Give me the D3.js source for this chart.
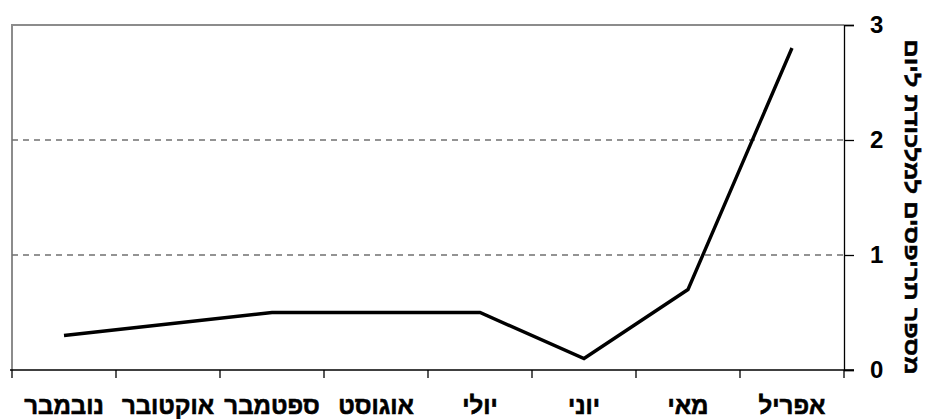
<!DOCTYPE html>
<html lang="he">
<head>
<meta charset="utf-8">
<script src="https://cdn.jsdelivr.net/npm/d3@7"></script>
<style>
  html, body { margin: 0; padding: 0; background: #fff; }
  svg { display: block; font-family: "Liberation Sans", Arial, sans-serif; }
  .heb { font-family: "Liberation Sans", "DejaVu Sans", sans-serif; font-weight: bold;
         fill: #000; stroke: #000; stroke-width: 0.6; }
</style>
</head>
<body>
<svg id="chart" width="925" height="419"></svg>
<script>
// the data (months run right to left)
var months = ['אפריל', 'מאי', 'יוני', 'יולי', 'אוגוסט', 'ספטמבר', 'אוקטובר', 'נובמבר'];
var values = [2.8, 0.7, 0.1, 0.5, 0.5, 0.5, 0.4, 0.3];
var yTicks = [0, 1, 2, 3];
var yTitle = 'מספר תריפסים למלכודת ליום';

// plot edges (not "top": that name belongs to window)
var pLeft = 12, pRight = 844, pTop = 25, pBottom = 370;

var svg = d3.select('#chart');

// band scale reversed so April sits on the right
var x = d3.scaleBand().domain(months.slice().reverse()).range([pLeft, pRight]);
var y = d3.scaleLinear().domain([0, 3]).range([pBottom, pTop]);

// plot frame (gray, top + left)
svg.append('path')
    .attr('d', 'M' + pLeft + ',' + pBottom + 'V' + pTop + 'H' + pRight)
    .attr('fill', 'none').attr('stroke', '#8c8c8c').attr('stroke-width', 2);

// dashed gridlines
svg.selectAll('.grid')
    .data(yTicks.filter(d => d > 0 && d < 3)).enter().append('line')
    .attr('x1', pLeft).attr('x2', pRight)
    .attr('y1', d => y(d)).attr('y2', d => y(d))
    .attr('stroke', '#707070').attr('stroke-width', 1.3)
    .attr('stroke-dasharray', '6,5');

// y axis on the right
var yAxis = svg.append('g')
    .attr('transform', 'translate(' + pRight + ',0)')
    .call(d3.axisRight(y).tickValues(yTicks).tickSize(10).tickPadding(16).tickFormat(d3.format('d')));
yAxis.select('.domain').attr('stroke', '#000').attr('stroke-width', 1.3);
yAxis.selectAll('.tick line').attr('stroke', '#000').attr('stroke-width', 1.3);
yAxis.selectAll('.tick text')
    .attr('font-size', 24).attr('font-weight', 'bold').attr('fill', '#000')
    .attr('font-family', '"Liberation Sans", Arial, sans-serif');

// x axis: ticks on band edges
var edges = x.domain().map(d => x(d)).concat([pRight]);
var xAxis = svg.append('g').attr('transform', 'translate(0,' + pBottom + ')');
xAxis.append('line').attr('x1', pLeft - 2).attr('x2', pRight + 10)
    .attr('stroke', '#000').attr('stroke-width', 1.3);
xAxis.selectAll('.xt').data(edges).enter().append('line')
    .attr('x1', d => d).attr('x2', d => d).attr('y1', 0).attr('y2', 8)
    .attr('stroke', '#000').attr('stroke-width', 1.3);
xAxis.selectAll('text').data(months).enter().append('text')
    .attr('class', 'heb')
    .attr('x', d => x(d) + x.bandwidth() / 2).attr('y', 44)
    .attr('text-anchor', 'middle').attr('direction', 'rtl')
    .attr('font-size', 24)
    .text(d => d);

// the line
var line = d3.line()
    .x((d, i) => x(months[i]) + x.bandwidth() / 2)
    .y(d => y(d));
svg.append('path').datum(values)
    .attr('d', line)
    .attr('fill', 'none').attr('stroke', '#000').attr('stroke-width', 3.4)
    .attr('stroke-linejoin', 'miter');

// y title, rotated clockwise
svg.append('text')
    .attr('class', 'heb')
    .attr('transform', 'translate(905,207) rotate(90)')
    .attr('text-anchor', 'middle').attr('direction', 'rtl')
    .attr('font-size', 20).style('stroke-width', 0.5)
    .attr('textLength', 335).attr('lengthAdjust', 'spacingAndGlyphs')
    .text(yTitle);
</script>
</body>
</html>
